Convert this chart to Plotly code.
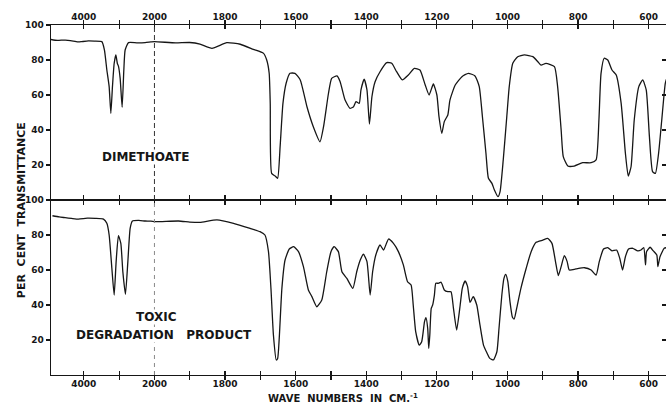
import plotly.graph_objects as go

# ---------------- data (wavenumber cm^-1, % transmittance) ----------------
dim_nu = [4950, 4750, 4529, 4300, 4150, 4056, 3869, 3700, 3490, 3416,
          3348, 3283, 3235, 3189, 3141, 3093, 3050, 3020, 2971, 2915,
          2867, 2830, 2736, 2500, 2263, 2100, 2000, 1940, 1900, 1871,
          1837, 1795, 1757, 1720, 1691, 1682, 1675, 1672, 1668, 1658,
          1651, 1644, 1636, 1627, 1616, 1602, 1587, 1568, 1550, 1531,
          1521, 1507, 1498, 1483, 1474, 1460, 1446, 1436, 1429, 1420,
          1415, 1406, 1398, 1391, 1384, 1375, 1361, 1342, 1328, 1314,
          1298, 1281, 1264, 1248, 1233, 1222, 1210, 1200, 1194, 1186,
          1179, 1169, 1163, 1148, 1129, 1111, 1092, 1080, 1071, 1061,
          1054, 1044, 1037, 1027, 1021, 1012, 1002, 995, 985, 971,
          952, 928, 914, 905, 891, 867, 858, 848, 842, 829,
          811, 787, 763, 749, 741, 735, 726, 716, 704, 692,
          678, 666, 658, 650, 641, 628, 617, 607, 598, 589,
          581, 572, 563, 553, 548]
dim_t = [91.8, 91.2, 91.4, 90.8, 90.3, 90.5, 90.9, 90.8, 90.5, 85.7,
         74.3, 64.8, 49.5, 64.8, 78.0, 82.9, 78.0, 76.5, 69.5, 53.0,
         74.3, 85.7, 89.9, 89.8, 89.9, 90.3, 90.5, 89.8, 90.0, 89.1,
         86.7, 89.9, 89.0, 86.1, 83.8, 80.0, 72.4, 55.2, 15.2, 13.7,
         12.4, 30.5, 55.2, 66.7, 72.4, 72.4, 68.6, 53.3, 41.9, 33.3,
         41.9, 61.0, 69.5, 70.9, 67.6, 57.1, 52.4, 53.3, 56.2, 55.2,
         62.9, 69.0, 62.9, 43.4, 59.0, 67.6, 73.3, 78.5, 78.1, 73.3,
         68.6, 71.4, 75.2, 74.3, 65.7, 60.0, 66.3, 60.0, 47.6, 38.1,
         44.8, 48.6, 57.1, 65.7, 70.5, 72.4, 70.9, 64.8, 47.6, 26.7,
         12.4, 9.5, 5.7, 1.9, 4.8, 22.9, 47.6, 64.8, 78.1, 81.9,
         82.9, 81.9, 79.0, 77.1, 78.1, 76.2, 64.8, 40.0, 24.8, 19.4,
         19.4, 21.3, 21.3, 22.9, 45.7, 72.4, 81.0, 80.0, 74.3, 71.4,
         55.2, 26.7, 13.7, 19.0, 45.7, 64.8, 68.6, 62.9, 36.2, 16.2,
         15.2, 26.7, 45.7, 66.7, 70.0]

tox_nu = [4889, 4700, 4529, 4350, 4152, 3900, 3679, 3444, 3348, 3283,
          3206, 3141, 3085, 3020, 2952, 2895, 2821, 2753, 2688, 2623,
          2450, 2263, 2100, 1998, 1932, 1900, 1871, 1823, 1776, 1729,
          1701, 1687, 1677, 1670, 1663, 1655, 1651, 1646, 1639, 1630,
          1618, 1606, 1592, 1578, 1564, 1554, 1540, 1526, 1512, 1500,
          1491, 1479, 1469, 1455, 1438, 1427, 1417, 1408, 1398, 1389,
          1382, 1373, 1361, 1351, 1337, 1323, 1309, 1295, 1283, 1273,
          1267, 1260, 1250, 1243, 1235, 1231, 1226, 1223, 1220, 1216,
          1212, 1207, 1203, 1196, 1188, 1179, 1169, 1160, 1153, 1144,
          1134, 1128, 1120, 1113, 1106, 1097, 1087, 1078, 1068, 1059,
          1050, 1040, 1030, 1024, 1016, 1010, 1005, 999, 993, 986,
          981, 974, 962, 947, 933, 919, 900, 886, 874, 864,
          856, 848, 839, 831, 825, 806, 782, 763, 749, 740,
          728, 716, 704, 691, 682, 674, 666, 657, 645, 631,
          622, 614, 609, 606, 596, 587, 577, 574, 568, 556, 548]
tox_t = [91.0, 90.3, 89.9, 89.5, 89.1, 89.6, 89.5, 89.1, 86.7, 80.0,
         61.0, 45.7, 64.8, 79.6, 75.2, 59.0, 46.1, 64.8, 83.8, 88.0,
         88.3, 88.0, 87.9, 87.6, 88.0, 87.4, 87.2, 88.6, 86.7, 83.8,
         81.9, 80.0, 70.5, 49.5, 22.9, 8.6, 9.5, 22.9, 49.5, 65.7,
         72.0, 73.3, 70.5, 61.9, 48.6, 44.8, 39.0, 42.9, 59.0, 70.5,
         73.3, 70.5, 59.0, 55.2, 49.5, 59.0, 65.7, 69.0, 64.8, 45.7,
         59.0, 68.6, 74.3, 71.4, 77.7, 75.2, 70.5, 62.9, 53.3, 51.4,
         40.0, 24.8, 17.1, 19.0, 30.5, 32.8, 26.7, 15.2, 22.9, 38.1,
         40.0, 45.7, 52.4, 52.4, 53.0, 48.6, 47.6, 47.6, 38.1, 25.7,
         40.0, 49.5, 53.7, 50.5, 41.5, 44.8, 40.0, 28.6, 17.1, 13.0,
         9.5, 8.6, 13.3, 26.7, 45.7, 55.2, 57.5, 53.3, 42.0, 33.0,
         32.0, 38.1, 49.5, 61.0, 70.5, 75.8, 77.1, 78.1, 75.2, 64.8,
         56.8, 61.9, 68.2, 64.8, 60.0, 60.6, 61.3, 60.0, 57.1, 64.8,
         72.0, 72.8, 70.9, 71.4, 66.7, 60.0, 67.6, 72.0, 72.4, 70.9,
         71.4, 72.8, 62.9, 70.5, 73.0, 70.9, 68.6, 61.9, 67.6, 72.4, 72.8]

tick_nu = [4000, 3000, 2000, 1900, 1800, 1700, 1600, 1500, 1400, 1300,
           1200, 1100, 1000, 900, 800, 700, 600]
tick_text = ["4000", "", "2000", "", "1800", "", "1600", "", "1400", "",
             "1200", "", "1000", "", "800", "", "600"]
y_ticks = [20, 40, 60, 80, 100]
y_text = ["20", "40", "60", "80", "100"]
label_top = "DIMETHOATE"
label_bot1 = "TOXIC"
label_bot2 = "DEGRADATION\u00a0\u00a0\u00a0PRODUCT"
assert len(dim_nu) == len(dim_t) and len(tox_nu) == len(tox_t)


def pos(nu):
    # chart scale: 10x compressed above 2000 cm-1
    return nu if nu <= 2000 else 2000 + (nu - 2000) / 10.0


FONT = "DejaVu Sans"
INK = "#161616"
xr = [pos(4930), 551]

fig = go.Figure()
fig.add_trace(go.Scatter(x=[pos(v) for v in dim_nu], y=dim_t, mode="lines",
                         line=dict(color=INK, width=1.3, shape="spline", smoothing=0.5),
                         xaxis="x2", yaxis="y2", showlegend=False, hoverinfo="skip"))
fig.add_trace(go.Scatter(x=[pos(v) for v in tox_nu], y=tox_t, mode="lines",
                         line=dict(color=INK, width=1.3, shape="spline", smoothing=0.5),
                         xaxis="x", yaxis="y", showlegend=False, hoverinfo="skip"))
# helper traces for right-hand tick axes
fig.add_trace(go.Scatter(x=[None], y=[None], xaxis="x", yaxis="y3", showlegend=False))
fig.add_trace(go.Scatter(x=[None], y=[None], xaxis="x2", yaxis="y4", showlegend=False))

tickvals = [pos(v) for v in tick_nu]
tf = dict(family=FONT, size=9, color=INK, weight="bold")
xcommon = dict(range=xr, tickvals=tickvals, ticktext=tick_text, showgrid=False,
               zeroline=False, showline=True, linecolor=INK, linewidth=1.4,
               ticks="inside", ticklen=4, tickwidth=1.2, tickcolor=INK,
               mirror="allticks", tickfont=tf, fixedrange=True, automargin=False)
ycommon = dict(range=[0, 100], tickvals=y_ticks, ticktext=y_text, showgrid=False,
               zeroline=False, showline=True, linecolor=INK, linewidth=1.4,
               ticks="outside", ticklen=4, tickwidth=1.2, tickcolor=INK,
               tickfont=tf, fixedrange=True, automargin=False)
yright = dict(range=[0, 100], tickvals=[20, 40, 60, 80], showgrid=False,
              zeroline=False, showline=False, ticks="inside", ticklen=4,
              tickwidth=1.2, tickcolor=INK, showticklabels=False, side="right",
              automargin=False)

fig.update_layout(
    width=666, height=404,
    margin=dict(l=51, r=0, t=25, b=29, autoexpand=False),
    paper_bgcolor="white", plot_bgcolor="white",
    xaxis=dict(anchor="y", side="bottom", **xcommon),
    xaxis2=dict(anchor="y2", side="top", **xcommon),
    yaxis=dict(domain=[0, 0.5], anchor="x", **ycommon),
    yaxis2=dict(domain=[0.5, 1], anchor="x2", **ycommon),
    yaxis3=dict(overlaying="y", anchor="x", **yright),
    yaxis4=dict(overlaying="y2", anchor="x2", **yright),
    showlegend=False,
    hovermode=False,
)

fig.add_shape(type="line", xref="x2", yref="y2", x0=pos(2000), x1=pos(2000),
              y0=0, y1=100, line=dict(color="#333", width=1, dash="5px,3px"))
fig.add_shape(type="line", xref="x", yref="y", x0=pos(2000), x1=pos(2000),
              y0=0, y1=100, line=dict(color="#8a8a8a", width=1, dash="4px,4px"))

lf = dict(family=FONT, size=12, color=INK, weight="bold")
common_ann = dict(xref="paper", yref="paper", showarrow=False,
                  xanchor="center", yanchor="middle")
fig.add_annotation(text=label_top, x=0.153, y=0.623, font=lf,
                   bgcolor="white", borderpad=0, **common_ann)
fig.add_annotation(text=label_bot1, x=0.172, y=0.166, font=lf,
                   bgcolor="white", borderpad=0, **common_ann)
fig.add_annotation(text=label_bot2, x=0.184, y=0.114, font=lf,
                   bgcolor="white", borderpad=0, **common_ann)
fig.add_annotation(text="PER\u00a0\u00a0CENT\u00a0\u00a0TRANSMITTANCE",
                   x=-0.0488, y=0.471, textangle=-90,
                   font=dict(family=FONT, size=11, color=INK, weight="bold"),
                   **common_ann)
fig.add_annotation(text="WAVE\u00a0\u00a0NUMBERS\u00a0\u00a0IN\u00a0\u00a0CM.<sup>-1</sup>",
                   x=0.475, y=-0.066,
                   font=dict(family=FONT, size=10, color=INK, weight="bold"),
                   **common_ann)

fig.write_html(
    "out.html",
    config={"displayModeBar": False, "staticPlot": True},
    post_script="document.body.style.margin='0';document.body.style.padding='0';"
                "document.documentElement.style.overflow='hidden';",
)
